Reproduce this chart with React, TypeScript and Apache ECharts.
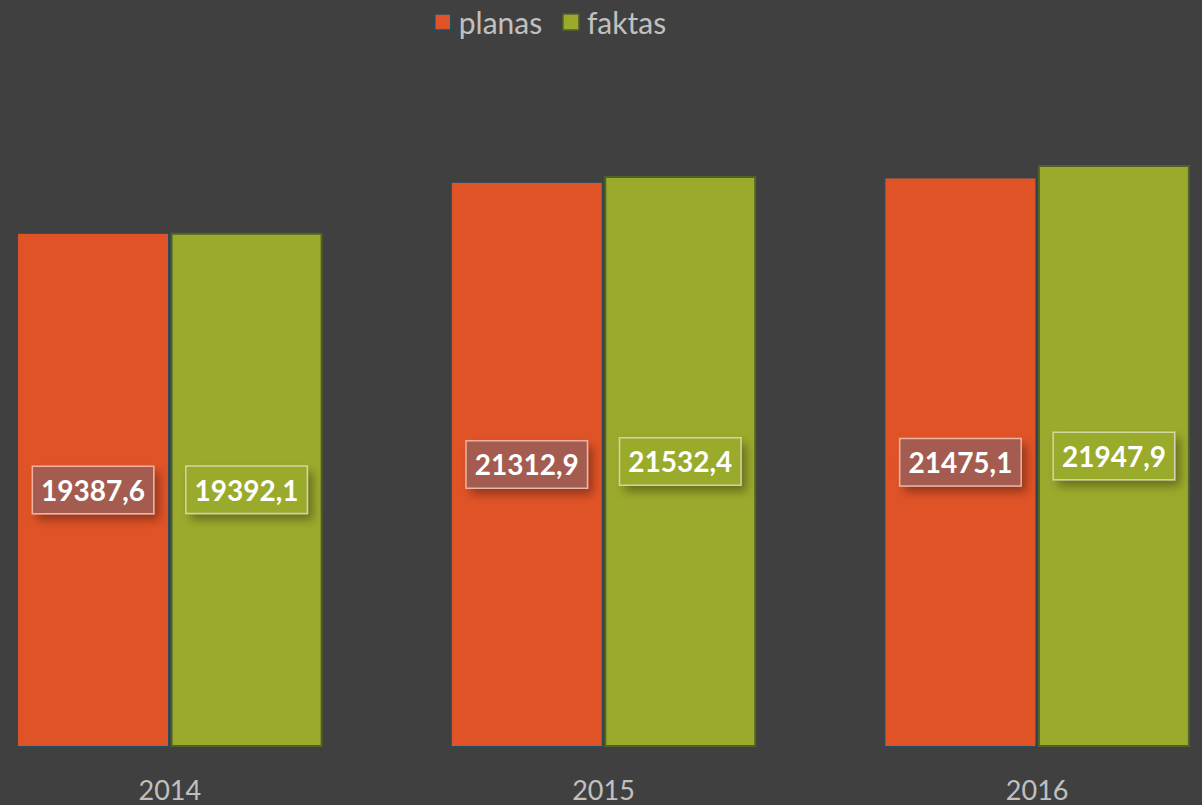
import React, { useEffect, useRef } from "react";
import * as echarts from "echarts";

const categories = ["2014", "2015", "2016"];
const planas = [19387.6, 21312.9, 21475.1];
const faktas = [19392.1, 21532.4, 21947.9];
const seriesNames = ["planas", "faktas"];

const fmt = (v: number) => v.toFixed(1).replace(".", ",");

const SHIFT = 48;

export default function App() {
  const ref = useRef<HTMLDivElement>(null);
  useEffect(() => {
    if (!ref.current) return;
    document.body.style.margin = "0";
    document.body.style.overflow = "hidden";
    document.body.style.background = "#404040";
    const chart = echarts.init(ref.current, undefined, { renderer: "svg" });
    const labelBase = {
      show: true,
      position: "inside",
      formatter: (p: any) => fmt(p.value),
      color: "#ffffff",
      fontFamily: "Lato",
      fontWeight: "bold",
      fontSize: 28,
      padding: [10, 8, 8, 8],
      borderColor: "rgba(255,255,255,0.55)",
      borderWidth: 1.5,
      shadowColor: "rgba(0,0,0,0.35)",
      shadowBlur: 10,
      shadowOffsetX: 5,
      shadowOffsetY: 6,
    };
    chart.setOption({
      animation: false,
      backgroundColor: "#404040",
      legend: {
        left: 429 + SHIFT,
        top: 2,
        icon: "rect",
        itemWidth: 16,
        itemHeight: 16,
        itemGap: 20,
        data: seriesNames,
        itemStyle: { borderWidth: 1.5 },
        textStyle: {
          color: "#c0c0c0",
          fontSize: 30,
          fontFamily: "Lato",
          padding: [0, 0, 0, 3],
        },
      },
      grid: { left: 1, right: 0, top: 84, bottom: 58 },
      xAxis: {
        type: "category",
        data: categories,
        axisLine: { show: false },
        axisTick: { show: false },
        axisLabel: {
          color: "#c0c0c0",
          fontSize: 27,
          lineHeight: 27,
          fontFamily: "Lato",
          margin: 29,
        },
      },
      yAxis: {
        type: "value",
        min: 0,
        max: 25000,
        show: false,
        splitLine: { show: false },
      },
      series: [
        {
          name: seriesNames[0],
          type: "bar",
          data: planas,
          barWidth: 152,
          barGap: "1%",
          itemStyle: { color: "#e05327", borderColor: "#1f4d63", borderWidth: 1 },
          label: { ...labelBase, backgroundColor: "#a35c4f" },
        },
        {
          name: seriesNames[1],
          type: "bar",
          data: faktas,
          barWidth: 152,
          itemStyle: { color: "#9ba92c", borderColor: "#4f6228", borderWidth: 2 },
          label: { ...labelBase, backgroundColor: "#9aaa2c" },
        },
      ],
    });
    return () => chart.dispose();
  }, []);
  return (
    <div
      ref={ref}
      style={{ position: "fixed", left: -SHIFT, top: 0, width: 1302, height: 805 }}
    />
  );
}
